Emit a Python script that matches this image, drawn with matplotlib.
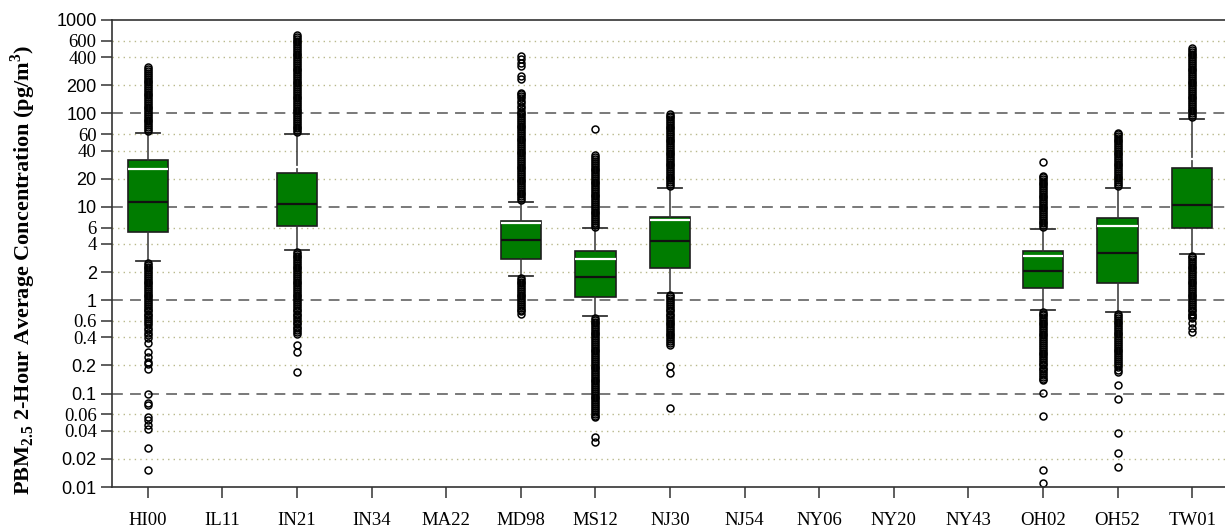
import matplotlib
matplotlib.use("Agg")
import matplotlib.pyplot as plt
import numpy as np

plt.rcParams['mathtext.fontset'] = 'custom'
plt.rcParams['mathtext.rm'] = 'Liberation Serif'
plt.rcParams['mathtext.bf'] = 'Liberation Serif:bold'

stations = ['HI00', 'IL11', 'IN21', 'IN34', 'MA22', 'MD98', 'MS12', 'NJ30',
            'NJ54', 'NY06', 'NY20', 'NY43', 'OH02', 'OH52', 'TW01']

# Box statistics per station (None = no data)
q1 = [5.33, None, 6.18, None, None, 2.78, 1.07, 2.21, None, None, None, None, 1.34, 1.52, 5.97]
median = [11.3, None, 10.7, None, None, 4.41, 1.79, 4.34, None, None, None, None, 2.07, 3.23, 10.5]
q3 = [31.7, None, 23.2, None, None, 7.1, 3.34, 7.78, None, None, None, None, 3.39, 7.65, 25.8]
mean = [25.4, None, 26.9, None, None, 6.7, 2.79, 7.23, None, None, None, None, 2.97, 6.2, 32.2]
whisker_low = [2.65, None, 3.45, None, None, 1.82, 0.68, 1.2, None, None, None, None, 0.785, 0.741, 3.15]
whisker_high = [62, None, 60.6, None, None, 11.3, 5.88, 16.0, None, None, None, None, 5.78, 16.0, 87]

# Outliers per station
hi00_out = [65, 68, 71, 74.5, 78, 82, 86, 90, 94, 98.5, 103, 108, 113, 118, 124, 130,
            136, 142, 149, 156, 163, 171, 179, 187, 196, 205, 215, 225, 236, 247, 258,
            270, 283, 296, 311,
            2.52, 2.4, 2.29, 2.19, 2.09, 2.0, 1.9, 1.82, 1.74, 1.66, 1.58, 1.51, 1.45,
            1.38, 1.32, 1.26, 1.2, 1.15, 1.1, 1.05, 1.0, 0.955, 0.91, 0.87, 0.83, 0.79,
            0.76, 0.72, 0.69, 0.66, 0.63, 0.6, 0.57, 0.54, 0.51, 0.48, 0.45, 0.42, 0.39,
            0.35, 0.28, 0.248, 0.22, 0.206, 0.185,
            0.098, 0.0795, 0.075, 0.0565, 0.052, 0.0457, 0.0415, 0.0264, 0.0151]
in21_out = [63, 66, 69, 72.4, 76, 79, 83, 87, 91, 95.5, 100, 105, 110, 115, 120, 126,
            132, 138, 145, 151, 158, 166, 174, 182, 190, 200, 209, 219, 229, 240, 251,
            263, 275, 288, 302, 316, 331, 347, 363, 380, 400, 417, 437, 457, 479, 500,
            525, 550, 575, 600, 630, 660, 690,
            3.3, 3.16, 3.0, 2.88, 2.75, 2.63, 2.51, 2.4, 2.29, 2.19, 2.09, 2.0, 1.9,
            1.82, 1.74, 1.66, 1.58, 1.51, 1.45, 1.38, 1.32, 1.26, 1.2, 1.15, 1.1, 1.05,
            1.0, 0.955, 0.91, 0.87, 0.83, 0.79, 0.76, 0.72, 0.69, 0.66, 0.63, 0.6,
            0.57, 0.55, 0.52, 0.5, 0.48, 0.46, 0.44, 0.33, 0.28, 0.172]
md98_out = [11.8, 12.4, 13, 13.6, 14.2, 14.9, 15.6, 16.3, 17.1, 17.9, 18.7, 19.6, 20.5,
            21.5, 22.5, 23.6, 24.7, 25.8, 27, 28.3, 29.6, 31, 32.5, 34, 35.6, 37.3, 39,
            40.8, 42.7, 44.7, 46.8, 49, 51.3, 53.7, 56.2, 58.9, 61.7, 64.6, 67.6, 70.8,
            74, 77.6, 81.3, 85, 89, 93.3, 97.7, 102, 107, 113, 120, 128, 136, 145, 152,
            160, 167, 235, 250, 320, 350, 380, 415,
            1.74, 1.66, 1.58, 1.51, 1.45, 1.38, 1.32, 1.26, 1.2, 1.15, 1.1, 1.05, 1.0,
            0.955, 0.91, 0.87, 0.83, 0.79, 0.76, 0.72]
ms12_out = [6.15, 6.45, 6.75, 7.05, 7.4, 7.75, 8.1, 8.5, 8.9, 9.3, 9.75, 10.2, 10.7,
            11.2, 11.7, 12.3, 12.9, 13.5, 14.1, 14.8, 15.5, 16.2, 17, 17.8, 18.6, 19.5,
            20.4, 21.4, 22.4, 23.4, 24.5, 25.7, 26.9, 28.2, 29.5, 31, 32.4, 34, 36, 68,
            0.65, 0.62, 0.59, 0.565, 0.54, 0.515, 0.49, 0.47, 0.45, 0.43, 0.41, 0.39,
            0.375, 0.355, 0.34, 0.325, 0.31, 0.296, 0.283, 0.27, 0.258, 0.246, 0.235,
            0.224, 0.214, 0.204, 0.195, 0.186, 0.178, 0.17, 0.162, 0.155, 0.148, 0.141,
            0.135, 0.129, 0.123, 0.117, 0.112, 0.107, 0.102, 0.097, 0.093, 0.089,
            0.085, 0.081, 0.077, 0.074, 0.07, 0.067, 0.064, 0.061, 0.058, 0.0555,
            0.0346, 0.0305]
nj30_out = [16.8, 17.6, 18.4, 19.3, 20.2, 21.1, 22.1, 23.1, 24.2, 25.3, 26.5, 27.7, 29,
            30.4, 31.8, 33.3, 34.8, 36.4, 38.1, 39.9, 41.8, 43.7, 45.8, 47.9, 50.1,
            52.5, 55, 57.5, 60.2, 63, 66, 69, 72.3, 75.6, 79, 82.8, 86.7, 90.7, 94.5, 98,
            1.15, 1.1, 1.05, 1.0, 0.955, 0.91, 0.87, 0.83, 0.79, 0.76, 0.72, 0.69, 0.66,
            0.63, 0.6, 0.575, 0.55, 0.525, 0.5, 0.48, 0.46, 0.44, 0.42, 0.4, 0.38,
            0.363, 0.347, 0.33, 0.197, 0.167, 0.0697]
oh02_out = [6.05, 6.35, 6.65, 6.95, 7.3, 7.6, 8.0, 8.35, 8.75, 9.15, 9.6, 10, 10.5, 11,
            11.5, 12, 12.6, 13.2, 13.8, 14.5, 15.2, 15.9, 16.6, 17.4, 18.2, 19.1, 20,
            20.8, 21.4, 30.4,
            0.75, 0.72, 0.69, 0.66, 0.63, 0.6, 0.575, 0.55, 0.525, 0.5, 0.48, 0.46,
            0.44, 0.42, 0.4, 0.38, 0.363, 0.347, 0.33, 0.316, 0.302, 0.288, 0.275,
            0.263, 0.251, 0.24, 0.229, 0.219, 0.209, 0.2, 0.19, 0.182, 0.174, 0.166,
            0.158, 0.151, 0.145, 0.14, 0.1007, 0.0575, 0.0152, 0.0111]
oh52_out = [16.8, 17.6, 18.4, 19.3, 20.2, 21.1, 22.1, 23.1, 24.2, 25.3, 26.5, 27.7, 29,
            30.4, 31.8, 33.3, 34.8, 36.4, 38.1, 39.9, 41.8, 43.7, 45.8, 47.9, 50.1,
            52.5, 55, 57.5, 60, 62,
            0.71, 0.68, 0.65, 0.62, 0.59, 0.565, 0.54, 0.515, 0.49, 0.47, 0.45, 0.43,
            0.41, 0.39, 0.375, 0.355, 0.34, 0.325, 0.31, 0.296, 0.283, 0.27, 0.258,
            0.246, 0.235, 0.224, 0.214, 0.204, 0.194, 0.18, 0.17, 0.124, 0.087,
            0.0376, 0.0233, 0.0162]
tw01_out = [91, 95.5, 100, 105, 110, 115, 120, 126, 132, 138, 145, 151, 158, 166, 174,
            182, 190, 200, 209, 219, 229, 240, 251, 263, 275, 288, 302, 316, 331, 347,
            363, 380, 400, 417, 437, 457, 479, 505,
            3.0, 2.88, 2.75, 2.63, 2.51, 2.4, 2.29, 2.19, 2.09, 2.0, 1.9, 1.82, 1.74,
            1.66, 1.58, 1.51, 1.45, 1.38, 1.32, 1.26, 1.2, 1.15, 1.1, 1.05, 1.0, 0.955,
            0.91, 0.87, 0.83, 0.79, 0.76, 0.72, 0.69, 0.66, 0.64, 0.57, 0.51, 0.46]

outliers = {'HI00': hi00_out, 'IN21': in21_out, 'MD98': md98_out, 'MS12': ms12_out,
            'NJ30': nj30_out, 'OH02': oh02_out, 'OH52': oh52_out, 'TW01': tw01_out}

y_ticks = [1000, 600, 400, 200, 100, 60, 40, 20, 10, 6, 4, 2, 1, 0.6, 0.4, 0.2,
           0.1, 0.06, 0.04, 0.02, 0.01]
y_tick_labels = ['1000', '600', '400', '200', '100', '60', '40', '20', '10', '6', '4',
                 '2', '1', '0.6', '0.4', '0.2', '0.1', '0.06', '0.04', '0.02', '0.01']

W, H = 1225, 529
fig = plt.figure(figsize=(W / 100, H / 100), dpi=100)
ax = fig.add_axes([112 / W, 42 / H, 1 - 112 / W, 467 / H])
ax.set_yscale('log')
ax.set_ylim(0.01, 1000)
ax.set_xlim(0.52, 15.44)

# Grid: dashed at decades, dotted at the other labelled values
for v in y_ticks:
    if v in (1000, 0.01):
        continue
    if v in (100, 10, 1, 0.1):
        ax.axhline(v, color='#6e6e6e', lw=1.3, ls=(0, (6, 4)), zorder=0)
    else:
        ax.axhline(v, color='#b9b98c', lw=1.0, ls=(0, (1, 3)), zorder=0)

positions = list(range(1, len(stations) + 1))
stats, pos = [], []
for i, name in enumerate(stations):
    if q1[i] is None:
        continue
    stats.append(dict(med=median[i], q1=q1[i], q3=q3[i], mean=mean[i],
                      whislo=whisker_low[i], whishi=whisker_high[i],
                      fliers=np.array(outliers[name]), label=name))
    pos.append(positions[i])

ax.bxp(stats, positions=pos, widths=0.54, patch_artist=True,
       showmeans=True, meanline=True, showfliers=True,
       boxprops=dict(facecolor='#007c00', edgecolor='#1e1e1e', lw=1.2),
       medianprops=dict(color='#111111', lw=1.6),
       meanprops=dict(color='white', lw=1.6, ls='-'),
       whiskerprops=dict(color='#333333', lw=1.1),
       capprops=dict(color='#333333', lw=1.3),
       capwidths=0.32,
       flierprops=dict(marker='o', markersize=5.0, markerfacecolor='none',
                       markeredgecolor='black', markeredgewidth=1.1))

ax.set_xticks(positions)
ax.set_xticklabels(stations, family=['Liberation Serif'], fontsize=13.5)
ax.set_yticks(y_ticks)
ax.yaxis.set_minor_locator(matplotlib.ticker.NullLocator())
ax.set_yticklabels(y_tick_labels)
serif_labels = {'600', '400', '60', '40', '6', '4', '0.6', '0.4', '0.06', '0.04'}
for lab in ax.get_yticklabels():
    if lab.get_text() in serif_labels:
        lab.set_family(['Liberation Serif', 'DejaVu Serif'])
        lab.set_fontsize(13.5)
    else:
        lab.set_family(['Liberation Sans', 'DejaVu Sans'])
        lab.set_fontsize(13)

ax.tick_params(axis='y', direction='out', length=8, width=1.1, color='#333333', pad=3)
ax.tick_params(axis='x', direction='out', length=8, width=1.1, color='#333333', pad=10)

for side in ('left', 'bottom', 'top'):
    ax.spines[side].set_color('#333333')
    ax.spines[side].set_linewidth(1.2)
ax.spines['right'].set_visible(False)

fig.text(0.019, 0.49,
         r'PBM$_{\mathbf{2.5}}$ 2-Hour Average Concentration (pg/m$^{\mathbf{3}}$)',
         rotation=90, ha='center', va='center', fontsize=16, fontweight='bold',
         family='Liberation Serif')

fig.savefig('out.png', dpi=100)
